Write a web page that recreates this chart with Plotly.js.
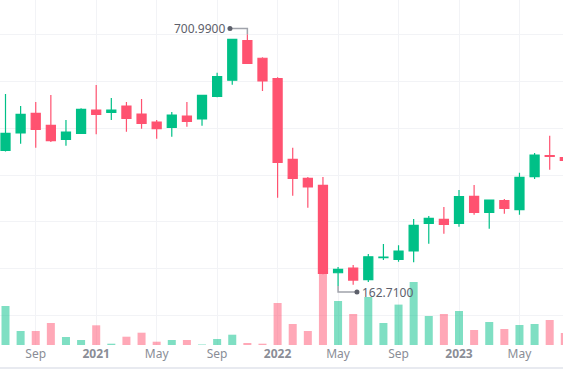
<!DOCTYPE html>
<html><head><meta charset="utf-8">
<script src="https://cdn.plot.ly/plotly-3.0.1.min.js"></script>
<style>html,body{margin:0;padding:0;background:#fff;} #chart{width:563px;height:369px;}</style>
</head><body><div id="chart"></div>
<script>
const months = ['2020-07','2020-08','2020-09','2020-10','2020-11','2020-12',
  '2021-01','2021-02','2021-03','2021-04','2021-05','2021-06','2021-07','2021-08','2021-09','2021-10','2021-11','2021-12',
  '2022-01','2022-02','2022-03','2022-04','2022-05','2022-06','2022-07','2022-08','2022-09','2022-10','2022-11','2022-12',
  '2023-01','2023-02','2023-03','2023-04','2023-05','2023-06','2023-07','2023-08'];
const openP  = [452.8,489.7,531.8,506.2,476.3,489.1, 538.9,534.0,547.4,530.3,513.2,501.9,526.1,519.7,568.2,602.4,687.0,649.4,
  605.8,433.5,393.0,378.0,191.2,201.3,176.3,223.5,219.9,237.6,296.8,305.3, 296.8,354.5,320.3,345.1,325.9,396.4,441.5,437.0];
const highP  = [573.0,547.4,556.0,570.9,517.5,542.5, 592.3,564.5,556.0,562.4,517.5,534.6,556.0,571.0,618.6,691.0,700.99,651.5,
  608.8,458.3,395.7,395.7,203.4,207.7,231.2,252.6,249.8,306.0,312.4,331.6, 368.0,378.6,347.5,348.7,404.9,447.0,484.0,438.0];
const lowP   = [450.0,466.9,458.3,470.5,462.6,488.0, 487.0,517.5,492.5,498.9,477.6,481.8,503.2,505.3,566.0,593.0,637.0,579.5,
  351.5,355.8,330.1,188.0,162.71,165.6,171.4,218.4,214.7,213.5,253.2,274.6, 289.5,315.2,285.3,317.3,315.2,391.5,411.3,430.0];
const closeP = [489.1,529.7,497.6,473.3,491.9,540.4, 529.7,538.9,521.2,510.5,498.9,528.2,514.7,570.3,610.0,690.0,638.7,600.9,
  427.1,393.0,374.4,190.0,198.5,175.6,225.4,224.5,237.6,292.5,307.5,294.7, 353.6,320.3,346.6,328.8,395.1,442.7,440.0,431.4];
const volume = [3.9,1.4,1.4,2.2,0.8,0.5, 1.97,0.13,0.83,1.23,0.33,0.5,0.5,0.05,0.6,1.03,0.2,0.13,
  4.2,2.1,1.4,7.2,4.4,3.1,4.8,2.2,4.04,6.3,2.9,3.1, 3.4,1.5,2.3,1.6,2.0,2.1,2.5,1.2];
const tickMonths = ['2020-09','2021-01','2021-05','2021-09','2022-01','2022-05','2022-09','2023-01','2023-05'];
const tickLabels = ['Sep','<b>2021</b>','May','Sep','<b>2022</b>','May','Sep','<b>2023</b>','May'];

const UP = '#00c087', DOWN = '#ff5270';
const UPV = 'rgba(0,192,135,0.5)', DOWNV = 'rgba(255,82,112,0.5)';

const volColors = closeP.map((c,i)=> c >= openP[i] ? UPV : DOWNV);

const volTrace = {type:'bar', x:months, y:volume, marker:{color:volColors, line:{width:0}},
  width:0.53, yaxis:'y', hoverinfo:'skip', showlegend:false};
const candle = {type:'candlestick', x:months, open:openP, high:highP, low:lowP, close:closeP,
  yaxis:'y2', showlegend:false, whiskerwidth:0,
  increasing:{line:{color:UP,width:1.2}, fillcolor:UP},
  decreasing:{line:{color:DOWN,width:1.2}, fillcolor:DOWN}};

// extremes
const maxV = Math.max(...highP), maxI = highP.indexOf(maxV);
const minV = Math.min(...lowP), minI = lowP.indexOf(minV);
const pxPerUnit = 0.468;
const maxTop = maxV + 5.5/pxPerUnit, maxDotX = maxI - 1.15;
const minBot = minV - 6/pxPerUnit, minDotX = minI + 1.25;
const conn = {color:'#a0a3ab', width:1.5};
const shapes = [
  {type:'path', xref:'x', yref:'y2', path:`M${maxI},${maxV} L${maxI},${maxTop} L${maxDotX},${maxTop}`, line:conn},
  {type:'circle', xref:'x', yref:'y2', xsizemode:'pixel', ysizemode:'pixel', xanchor:maxDotX, yanchor:maxTop,
    x0:-2.5,x1:2.5,y0:-2.5,y1:2.5, fillcolor:'#5d606b', line:{width:0}},
  {type:'path', xref:'x', yref:'y2', path:`M${minI},${minV} L${minI},${minBot} L${minDotX},${minBot}`, line:conn},
  {type:'circle', xref:'x', yref:'y2', xsizemode:'pixel', ysizemode:'pixel', xanchor:minDotX, yanchor:minBot,
    x0:-2.5,x1:2.5,y0:-2.5,y1:2.5, fillcolor:'#5d606b', line:{width:0}},
  {type:'line', xref:'paper', yref:'paper', x0:0, x1:1, y0:-0.0667, y1:-0.0667, line:{color:'#e0e3eb', width:1.5}}
];
const annFont = {family:'Noto Sans, sans-serif', size:12, color:'#5d606b'};
const annotations = [
  {xref:'x', yref:'y2', x:maxDotX, y:maxTop, text:maxV.toFixed(4), showarrow:false, xanchor:'right', yanchor:'middle', xshift:-3, font:annFont},
  {xref:'x', yref:'y2', x:minDotX, y:minBot, text:minV.toFixed(4), showarrow:false, xanchor:'left', yanchor:'middle', xshift:3, font:annFont}
];

const layout = {
  width:563, height:369,
  margin:{l:0, r:0, t:0, b:24, pad:0},
  paper_bgcolor:'#ffffff', plot_bgcolor:'#ffffff',
  showlegend:false, boxgap:0.4, boxgroupgap:0,
  hovermode:false,
  xaxis:{type:'category', categoryorder:'array', categoryarray:months,
    range:[-0.364, 36.88], rangeslider:{visible:false},
    tickmode:'array', tickvals:tickMonths, ticktext:tickLabels,
    showgrid:true, gridcolor:'#f2f3f6', gridwidth:1, zeroline:false, showline:false,
    ticks:'', ticklabelstandoff:0,
    tickfont:{family:'Noto Sans, sans-serif', size:12, color:'#8a8d96'}},
  yaxis:{range:[0, 34.5], showgrid:false, zeroline:false, showticklabels:false, fixedrange:true},
  yaxis2:{overlaying:'y', side:'right', range:[36.8, 773.9], tickmode:'linear', tick0:0, dtick:100,
    showgrid:true, gridcolor:'#f2f3f6', gridwidth:1, zeroline:false, showticklabels:false, showline:false},
  shapes:shapes, annotations:annotations
};
Plotly.newPlot('chart', [volTrace, candle], layout, {displayModeBar:false, staticPlot:true});
</script></body></html>
